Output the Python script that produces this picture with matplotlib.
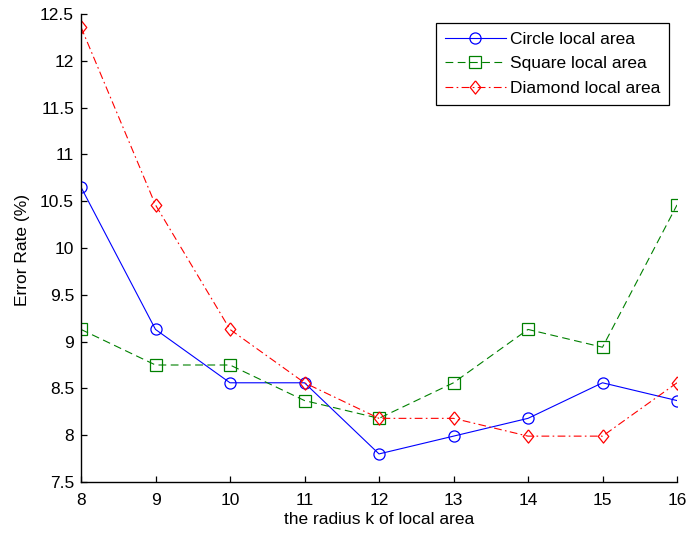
import numpy as np
import matplotlib
matplotlib.use('Agg')
import matplotlib.pyplot as plt
from matplotlib.ticker import FormatStrFormatter

# radius k of the local area
radius = [8, 9, 10, 11, 12, 13, 14, 15, 16]

# error rates (%)
circle_err = [10.65, 9.13, 8.56, 8.56, 7.80, 7.99, 8.18, 8.56, 8.37]
square_err = [9.13, 8.75, 8.75, 8.37, 8.18, 8.56, 9.13, 8.94, 10.46]
diamond_err = [12.36, 10.46, 9.13, 8.56, 8.18, 8.18, 7.99, 7.99, 8.56]

y_ticks = [7.5, 8, 8.5, 9, 9.5, 10, 10.5, 11, 11.5, 12, 12.5]

plt.rcParams['font.family'] = ['Liberation Sans', 'DejaVu Sans']
plt.rcParams['font.size'] = 12.5

# MATLAB-like diamond, a bit taller than wide
diamond = [(0, 1), (0.8, 0), (0, -1), (-0.8, 0), (0, 1)]

fig = plt.figure(figsize=(6.87, 5.36), dpi=100)
ax = fig.add_axes([81 / 687, 1 - 482 / 536, (677 - 81) / 687, (482 - 14) / 536])

ax.plot(radius, circle_err, color='#0000ff', linestyle='-', linewidth=0.8,
        marker='o', markersize=8, markerfacecolor='none', markeredgewidth=0.9,
        label='Circle local area')
ax.plot(radius, square_err, color='#008000', linestyle=(0, (7, 4)), linewidth=0.8,
        marker='s', markersize=8, markerfacecolor='none', markeredgewidth=0.9,
        label='Square local area')
ax.plot(radius, diamond_err, color='#ff0000', linestyle=(0, (7, 3, 1.5, 3)), linewidth=0.8,
        marker=diamond, markersize=9.5, markerfacecolor='none', markeredgewidth=0.9,
        label='Diamond local area')

ax.set_xlim(8, 16)
ax.set_ylim(7.5, 12.5)
ax.set_xticks(radius)
ax.set_yticks(y_ticks)
ax.yaxis.set_major_formatter(FormatStrFormatter('%g'))

ax.spines['top'].set_visible(False)
ax.spines['right'].set_visible(False)
ax.spines['left'].set_linewidth(1.0)
ax.spines['bottom'].set_linewidth(1.0)
ax.tick_params(direction='in', length=4.5, width=0.9)
ax.tick_params(axis='x', pad=8)
ax.tick_params(axis='y', pad=5)

ax.set_xlabel('the radius k of local area', labelpad=3)
ax.set_ylabel('Error Rate (%)')
ax.yaxis.set_label_coords((30 - 81) / 596, 0.496)

leg = ax.legend(loc='upper right', bbox_to_anchor=(0.987, 0.981), fancybox=False,
                framealpha=1, edgecolor='black', handlelength=3.5, handletextpad=0.25,
                borderpad=0.5, labelspacing=0.55, borderaxespad=0)
leg.get_frame().set_linewidth(0.9)

fig.savefig('out.png', dpi=100)
